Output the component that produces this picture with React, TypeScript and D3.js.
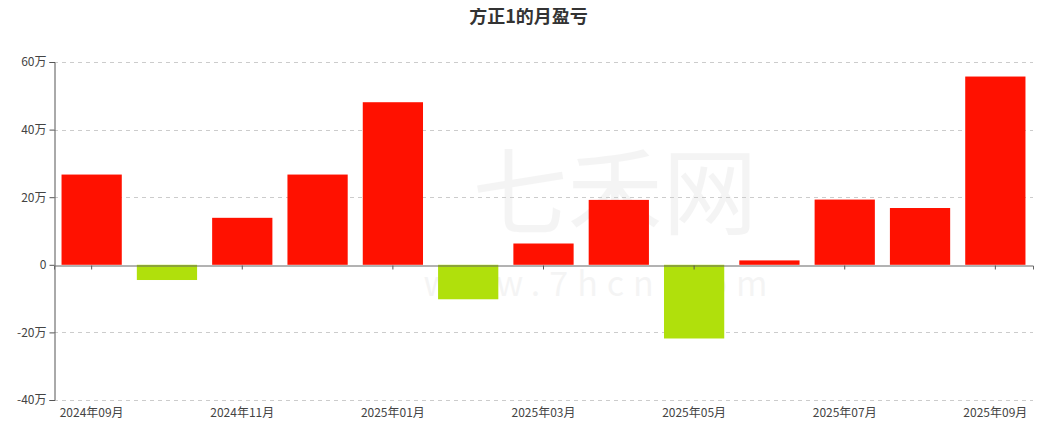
import { useEffect, useRef } from "react";
import * as d3 from "d3";

const months = [
  "2024年09月", "2024年10月", "2024年11月", "2024年12月", "2025年01月",
  "2025年02月", "2025年03月", "2025年04月", "2025年05月", "2025年06月",
  "2025年07月", "2025年08月", "2025年09月",
];
// monthly profit/loss, in yuan
const profit = [
  267000, -45000, 139000, 267000, 481000, -102000, 63000, 192000,
  -218000, 13000, 193000, 168000, 557000,
];
const yTicks = [-400000, -200000, 0, 200000, 400000, 600000];

const W = 1053, H = 434;
const margin = { top: 62, right: 20, bottom: 34, left: 54 };

const fmt = (v: number) => (v === 0 ? "0" : `${v / 10000}万`);

export default function App() {
  const ref = useRef<SVGSVGElement | null>(null);

  useEffect(() => {
    if (!ref.current) return;
    const svg = d3.select(ref.current);
    svg.selectAll("*").remove();
    const font = "'Noto Sans CJK SC', 'Noto Sans', sans-serif";

    const x = d3
      .scaleBand()
      .domain(months)
      .range([margin.left, W - margin.right])
      .padding(0);
    const y = d3
      .scaleLinear()
      .domain([-400000, 600000])
      .range([H - margin.bottom, margin.top]);

    // watermark
    const wm = svg.append("g").attr("fill", "#000").attr("opacity", 0.04).style("font-family", font);
    wm.append("text")
      .attr("x", 615).attr("y", 228)
      .attr("text-anchor", "middle")
      .attr("font-size", 95)
      .text("七禾网");
    wm.append("text")
      .attr("x", 600).attr("y", 296)
      .attr("text-anchor", "middle")
      .attr("font-size", 34)
      .attr("letter-spacing", 9)
      .text("www.7hcn.com");

    // title
    svg.append("text")
      .attr("x", W / 2 + 2).attr("y", 23)
      .attr("text-anchor", "middle")
      .attr("font-size", 18)
      .attr("font-weight", "bold")
      .attr("fill", "#333")
      .style("font-family", font)
      .text("方正1的月盈亏");

    // grid
    svg.append("g")
      .selectAll("line")
      .data(yTicks.filter((t) => t !== 0))
      .enter()
      .append("line")
      .attr("x1", margin.left).attr("x2", W - margin.right)
      .attr("y1", (d) => Math.round(y(d)) + 0.5)
      .attr("y2", (d) => Math.round(y(d)) + 0.5)
      .attr("stroke", "#ccc")
      .attr("stroke-dasharray", "4,4");

    // bars
    svg.append("g")
      .selectAll("rect")
      .data(profit)
      .enter()
      .append("rect")
      .attr("x", (_, i) => x(months[i])! + x.bandwidth() * 0.1)
      .attr("width", x.bandwidth() * 0.8)
      .attr("y", (d) => y(Math.max(0, d)))
      .attr("height", (d) => Math.abs(y(d) - y(0)))
      .attr("fill", (d) => (d >= 0 ? "#ff1100" : "#b0e00c"));

    // y axis
    const yAxis = svg.append("g")
      .attr("transform", `translate(${margin.left + 0.5},0)`)
      .call(d3.axisLeft(y).tickValues(yTicks).tickFormat((d) => fmt(+d)).tickSize(5).tickPadding(3));
    yAxis.select(".domain").attr("stroke", "#555");
    yAxis.selectAll(".tick line").attr("stroke", "#555");
    yAxis.selectAll("text").attr("fill", "#444").attr("font-size", 12).style("font-family", font);

    // x axis at zero
    const xAxis = svg.append("g")
      .attr("transform", `translate(0,${Math.round(y(0)) + 0.5})`)
      .call(
        d3.axisBottom(x)
          .tickValues(months.filter((_, i) => i % 2 === 0))
          .tickSize(4)
          .tickFormat(() => "")
      );
    xAxis.select(".domain").attr("stroke", "#666");
    xAxis.selectAll(".tick line").attr("stroke", "#555");

    // category labels along the bottom
    svg.append("g")
      .selectAll("text")
      .data(months.filter((_, i) => i % 2 === 0))
      .enter()
      .append("text")
      .attr("x", (d) => x(d)! + x.bandwidth() / 2)
      .attr("y", H - margin.bottom + 17)
      .attr("text-anchor", "middle")
      .attr("font-size", 12)
      .attr("fill", "#444")
      .style("font-family", font)
      .text((d) => d);
  }, []);

  return <svg ref={ref} width={W} height={H} style={{ display: "block", margin: "-8px" }} />;
}
